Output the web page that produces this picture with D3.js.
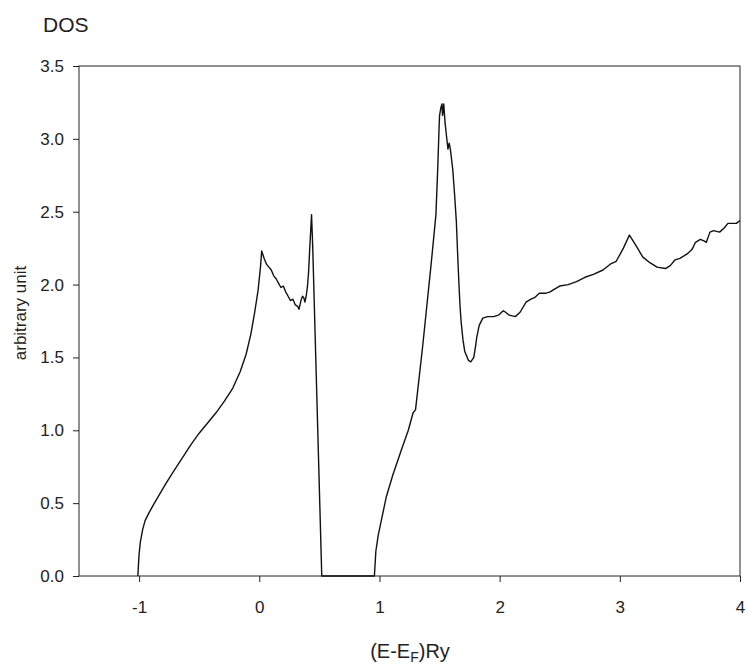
<html>
<head>
  <meta charset="utf-8">
  <style>
  body {
    margin: 0;
    background: #fff;
  }
  svg text {
    font-family: "Liberation Sans", Arial, sans-serif;
    fill: #222;
  }
  .axis path, .axis line {
    stroke: #222;
  }
  </style>
</head>
<body>
  <div id="elm"></div>

  <script src="https://d3js.org/d3.v7.min.js"></script>
  <script>

  'use strict';

  var width = 748,
      height = 666;

  // energy (E - E_F) in Ry
  var energy = [
    -1.01, -1.005, -1.0, -0.99, -0.97, -0.95, -0.92, -0.88, -0.83, -0.78,
    -0.72, -0.64, -0.57, -0.50, -0.43, -0.36, -0.29, -0.22, -0.16, -0.11,
    -0.07, -0.04, -0.01, 0.01, 0.02, 0.04, 0.06, 0.08, 0.10, 0.12,
    0.14, 0.16, 0.18, 0.20, 0.22, 0.24, 0.26, 0.28, 0.30, 0.32,
    0.33, 0.35, 0.36, 0.37, 0.38, 0.39, 0.40, 0.41, 0.42, 0.435,
    0.445, 0.52, 0.958, 0.97, 0.99, 1.01, 1.056, 1.11, 1.18, 1.24,
    1.28, 1.30, 1.33, 1.36, 1.39, 1.43, 1.47, 1.485, 1.495, 1.50,
    1.51, 1.52, 1.525, 1.535, 1.545, 1.555, 1.57, 1.58, 1.59, 1.61,
    1.625, 1.64, 1.65, 1.66, 1.67, 1.68, 1.695, 1.71, 1.74, 1.76,
    1.785, 1.80, 1.81, 1.83, 1.86, 1.90, 1.95, 1.99, 2.03, 2.05,
    2.08, 2.13, 2.17, 2.22, 2.26, 2.29, 2.33, 2.38, 2.42, 2.46,
    2.50, 2.57, 2.64, 2.71, 2.78, 2.86, 2.92, 2.97, 3.03, 3.08,
    3.14, 3.19, 3.25, 3.31, 3.38, 3.42, 3.46, 3.50, 3.56, 3.60,
    3.63, 3.67, 3.70, 3.72, 3.75, 3.78, 3.83, 3.87, 3.90, 3.97,
    4.0
  ];

  // density of states, arbitrary unit
  var dos = [
    0, 0.08, 0.15, 0.23, 0.32, 0.38, 0.43, 0.49, 0.56, 0.63,
    0.71, 0.81, 0.90, 0.98, 1.05, 1.12, 1.20, 1.29, 1.40, 1.52,
    1.66, 1.80, 1.96, 2.12, 2.23, 2.18, 2.14, 2.12, 2.10, 2.06,
    2.04, 2.01, 1.98, 1.99, 1.95, 1.92, 1.89, 1.90, 1.86, 1.85,
    1.83, 1.90, 1.92, 1.91, 1.88, 1.92, 1.98, 2.08, 2.25, 2.48,
    2.25, 0, 0, 0.17, 0.28, 0.36, 0.54, 0.69, 0.86, 1.00,
    1.12, 1.14, 1.36, 1.58, 1.82, 2.14, 2.48, 2.80, 3.05, 3.16,
    3.21, 3.24, 3.16, 3.24, 3.12, 3.04, 2.93, 2.97, 2.93, 2.79,
    2.62, 2.43, 2.22, 2.03, 1.86, 1.74, 1.62, 1.54, 1.48, 1.47,
    1.50, 1.58, 1.64, 1.72, 1.77, 1.78, 1.78, 1.79, 1.82, 1.81,
    1.79, 1.78, 1.81, 1.88, 1.90, 1.91, 1.94, 1.94, 1.95, 1.97,
    1.99, 2.00, 2.02, 2.05, 2.07, 2.10, 2.14, 2.16, 2.25, 2.34,
    2.26, 2.19, 2.15, 2.12, 2.11, 2.13, 2.17, 2.18, 2.21, 2.24,
    2.29, 2.31, 2.30, 2.29, 2.36, 2.37, 2.36, 2.39, 2.42, 2.42,
    2.44
  ];

  var xTicks = [-1, 0, 1, 2, 3, 4];
  var yTicks = [0, 0.5, 1.0, 1.5, 2.0, 2.5, 3.0, 3.5];

  var svg = d3.select('#elm').append('svg')
    .attr('width', width)
    .attr('height', height);

  var x = d3.scaleLinear().domain([-1.5, 4]).range([79, 740]);
  var y = d3.scaleLinear().domain([0, 3.5]).range([576, 66]);

  // frame
  svg.append('rect')
    .attr('x', x.range()[0]).attr('y', y.range()[1])
    .attr('width', x.range()[1] - x.range()[0])
    .attr('height', y.range()[0] - y.range()[1])
    .attr('fill', 'none').attr('stroke', '#222').attr('stroke-width', 1);

  var xAxis = d3.axisBottom(x).tickValues(xTicks).tickSize(6).tickPadding(19)
    .tickFormat(function(d) { return d < 0 ? '-' + Math.abs(d) : String(d); });
  svg.append('g').attr('class', 'axis')
    .attr('transform', 'translate(0,' + y.range()[0] + ')')
    .call(xAxis)
    .call(function(g) { g.select('.domain').remove(); })
    .selectAll('text').style('font-size', '17px').attr('fill', '#222');

  var yAxis = d3.axisLeft(y).tickValues(yTicks).tickSize(6).tickPadding(9)
    .tickFormat(d3.format('.1f'));
  svg.append('g').attr('class', 'axis')
    .attr('transform', 'translate(' + x.range()[0] + ',0)')
    .call(yAxis)
    .call(function(g) { g.select('.domain').remove(); })
    .selectAll('text').style('font-size', '17px').attr('fill', '#222');

  var line = d3.line()
    .x(function(d) { return x(d[0]); })
    .y(function(d) { return y(d[1]); });

  svg.append('path')
    .datum(d3.zip(energy, dos))
    .attr('d', line)
    .attr('fill', 'none')
    .attr('stroke', '#111')
    .attr('stroke-width', 1.4)
    .attr('stroke-linejoin', 'round');

  // titles
  svg.append('text')
    .attr('x', 43).attr('y', 32)
    .style('font-size', '21px')
    .text('DOS');

  svg.append('text')
    .attr('transform', 'translate(26,313) rotate(-90)')
    .attr('text-anchor', 'middle')
    .style('font-size', '17px')
    .text('arbitrary unit');

  var xt = svg.append('text')
    .attr('x', 410).attr('y', 658)
    .attr('text-anchor', 'middle')
    .style('font-size', '20px');
  xt.append('tspan').text('(E-E');
  xt.append('tspan').attr('dy', 4).style('font-size', '14px').text('F');
  xt.append('tspan').attr('dy', -4).text(')Ry');

  </script>
</body>
</html>
